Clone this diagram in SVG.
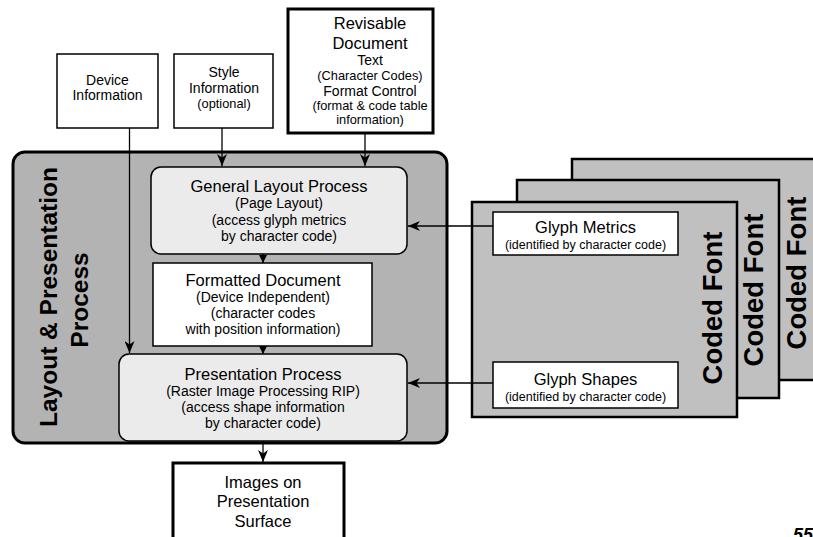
<svg xmlns="http://www.w3.org/2000/svg" width="813" height="537" viewBox="0 0 813 537">
  <style>
    text { font-family: "Liberation Sans", Arial, sans-serif; fill: #000; text-anchor: middle; }
    .t16 { font-size: 16.5px; }
    .t14 { font-size: 14px; }
    .t13 { font-size: 12.8px; }
    .t12 { font-size: 12.5px; }
    .big { font-size: 24.5px; font-weight: bold; }
    .font { font-size: 27.5px; font-weight: bold; }
    .box { fill: #fff; stroke: #000; stroke-width: 1.5; }
    .thick { fill: #fff; stroke: #000; stroke-width: 3; }
    .proc { fill: #ebebeb; stroke: #000; stroke-width: 1.5; }
    .outer { fill: #b3b3b3; stroke: #000; stroke-width: 3; }
    .cf { fill: #c0c0c0; stroke: #000; stroke-width: 2.5; }
    .conn { stroke: #000; stroke-width: 1.3; fill: none; }
  </style>
  <defs>
    <marker id="arrow" viewBox="0 0 12 10" refX="12" refY="5" markerWidth="12" markerHeight="10" markerUnits="userSpaceOnUse" orient="auto">
      <path d="M0,0 L12,5 L0,10 L3.5,5 z" fill="#000"/>
    </marker>
    <marker id="small" viewBox="0 0 8 8" refX="8" refY="4" markerWidth="8" markerHeight="8" markerUnits="userSpaceOnUse" orient="auto">
      <path d="M0,0 L8,4 L0,8 z" fill="#000"/>
    </marker>
  </defs>

  <!-- stacked coded fonts -->
  <g id="coded-font-3">
    <rect class="cf" x="572" y="159" width="260" height="221"/>
    <text class="font" transform="translate(806,273) rotate(-90)">Coded Font</text>
  </g>
  <g id="coded-font-2">
    <rect class="cf" x="517" y="180" width="262" height="218"/>
    <text class="font" transform="translate(763,290) rotate(-90)">Coded Font</text>
  </g>
  <g id="coded-font-1">
    <rect class="cf" x="472" y="202" width="265" height="215"/>
    <text class="font" transform="translate(722,308) rotate(-90)">Coded Font</text>
  </g>
  <g id="glyph-metrics">
    <rect class="box" x="493" y="212" width="185" height="43"/>
    <text class="t16" x="585.5" y="233">Glyph Metrics</text>
    <text class="t12" x="585.5" y="249">(identified by character code)</text>
  </g>
  <g id="glyph-shapes">
    <rect class="box" x="493" y="362" width="185" height="46"/>
    <text class="t16" x="585.5" y="385">Glyph Shapes</text>
    <text class="t12" x="585.5" y="401">(identified by character code)</text>
  </g>

  <!-- layout & presentation process container -->
  <g id="layout-presentation">
    <rect class="outer" x="13" y="152" width="434" height="291" rx="12"/>
    <text class="big" transform="translate(57,297) rotate(-90)">Layout &amp; Presentation</text>
    <text class="big" transform="translate(88,300) rotate(-90)">Process</text>
  </g>
  <g id="general-layout">
    <rect class="proc" x="151" y="167" width="256" height="87" rx="10"/>
    <text class="t16" x="279" y="192">General Layout Process</text>
    <text class="t14" x="279" y="208">(Page Layout)</text>
    <text class="t14" x="279" y="225">(access glyph metrics</text>
    <text class="t14" x="279" y="241">by character code)</text>
  </g>
  <g id="formatted-document">
    <rect class="box" x="153" y="263" width="219" height="83"/>
    <text class="t16" x="263" y="286">Formatted Document</text>
    <text class="t14" x="263" y="302">(Device Independent)</text>
    <text class="t14" x="263" y="318">(character codes</text>
    <text class="t14" x="263" y="334">with position information)</text>
  </g>
  <g id="presentation-process">
    <rect class="proc" x="119" y="354" width="288" height="87" rx="10"/>
    <text class="t16" x="263" y="380">Presentation Process</text>
    <text class="t14" x="263" y="396">(Raster Image Processing RIP)</text>
    <text class="t14" x="263" y="412">(access shape information</text>
    <text class="t14" x="263" y="428">by character code)</text>
  </g>

  <!-- inputs -->
  <g id="device-information">
    <rect class="box" x="57" y="54" width="101" height="74"/>
    <text class="t14" x="107.5" y="85">Device</text>
    <text class="t14" x="107.5" y="100">Information</text>
  </g>
  <g id="style-information">
    <rect class="box" x="174" y="54" width="99" height="74"/>
    <text class="t14" x="224" y="77">Style</text>
    <text class="t14" x="224" y="93">Information</text>
    <text class="t13" x="224" y="108">(optional)</text>
  </g>
  <g id="revisable-document">
    <rect class="thick" x="288" y="9" width="145" height="124"/>
    <text class="t16" x="370" y="29">Revisable</text>
    <text class="t16" x="370" y="49">Document</text>
    <text class="t14" x="370" y="65">Text</text>
    <text class="t13" x="370" y="80">(Character Codes)</text>
    <text class="t14" x="370" y="96">Format Control</text>
    <text class="t13" x="370" y="110">(format &amp; code table</text>
    <text class="t13" x="370" y="124">information)</text>
  </g>

  <!-- output -->
  <g id="images-on-surface">
    <rect class="thick" x="173" y="463" width="171" height="90"/>
    <text class="t16" x="263" y="488">Images on</text>
    <text class="t16" x="263" y="507">Presentation</text>
    <text class="t16" x="263" y="527">Surface</text>
  </g>

  <!-- page number, running off the corner -->
  <text x="793" y="541" style="font-size:18px;font-weight:bold;font-style:italic;text-anchor:start">55</text>

  <!-- connectors -->
  <g id="connectors">
    <line class="conn" x1="129.5" y1="128" x2="129.5" y2="353" marker-end="url(#arrow)"/>
    <line class="conn" x1="222" y1="128" x2="222" y2="166" marker-end="url(#arrow)"/>
    <line class="conn" x1="365" y1="133" x2="365" y2="166" marker-end="url(#arrow)"/>
    <line class="conn" x1="263" y1="254" x2="263" y2="263" marker-end="url(#small)"/>
    <line class="conn" x1="263" y1="346" x2="263" y2="354" marker-end="url(#small)"/>
    <line class="conn" x1="493" y1="226" x2="408" y2="226" marker-end="url(#arrow)"/>
    <line class="conn" x1="493" y1="383" x2="408" y2="383" marker-end="url(#arrow)"/>
    <line class="conn" x1="263" y1="441" x2="263" y2="462" marker-end="url(#arrow)"/>
  </g>
</svg>
